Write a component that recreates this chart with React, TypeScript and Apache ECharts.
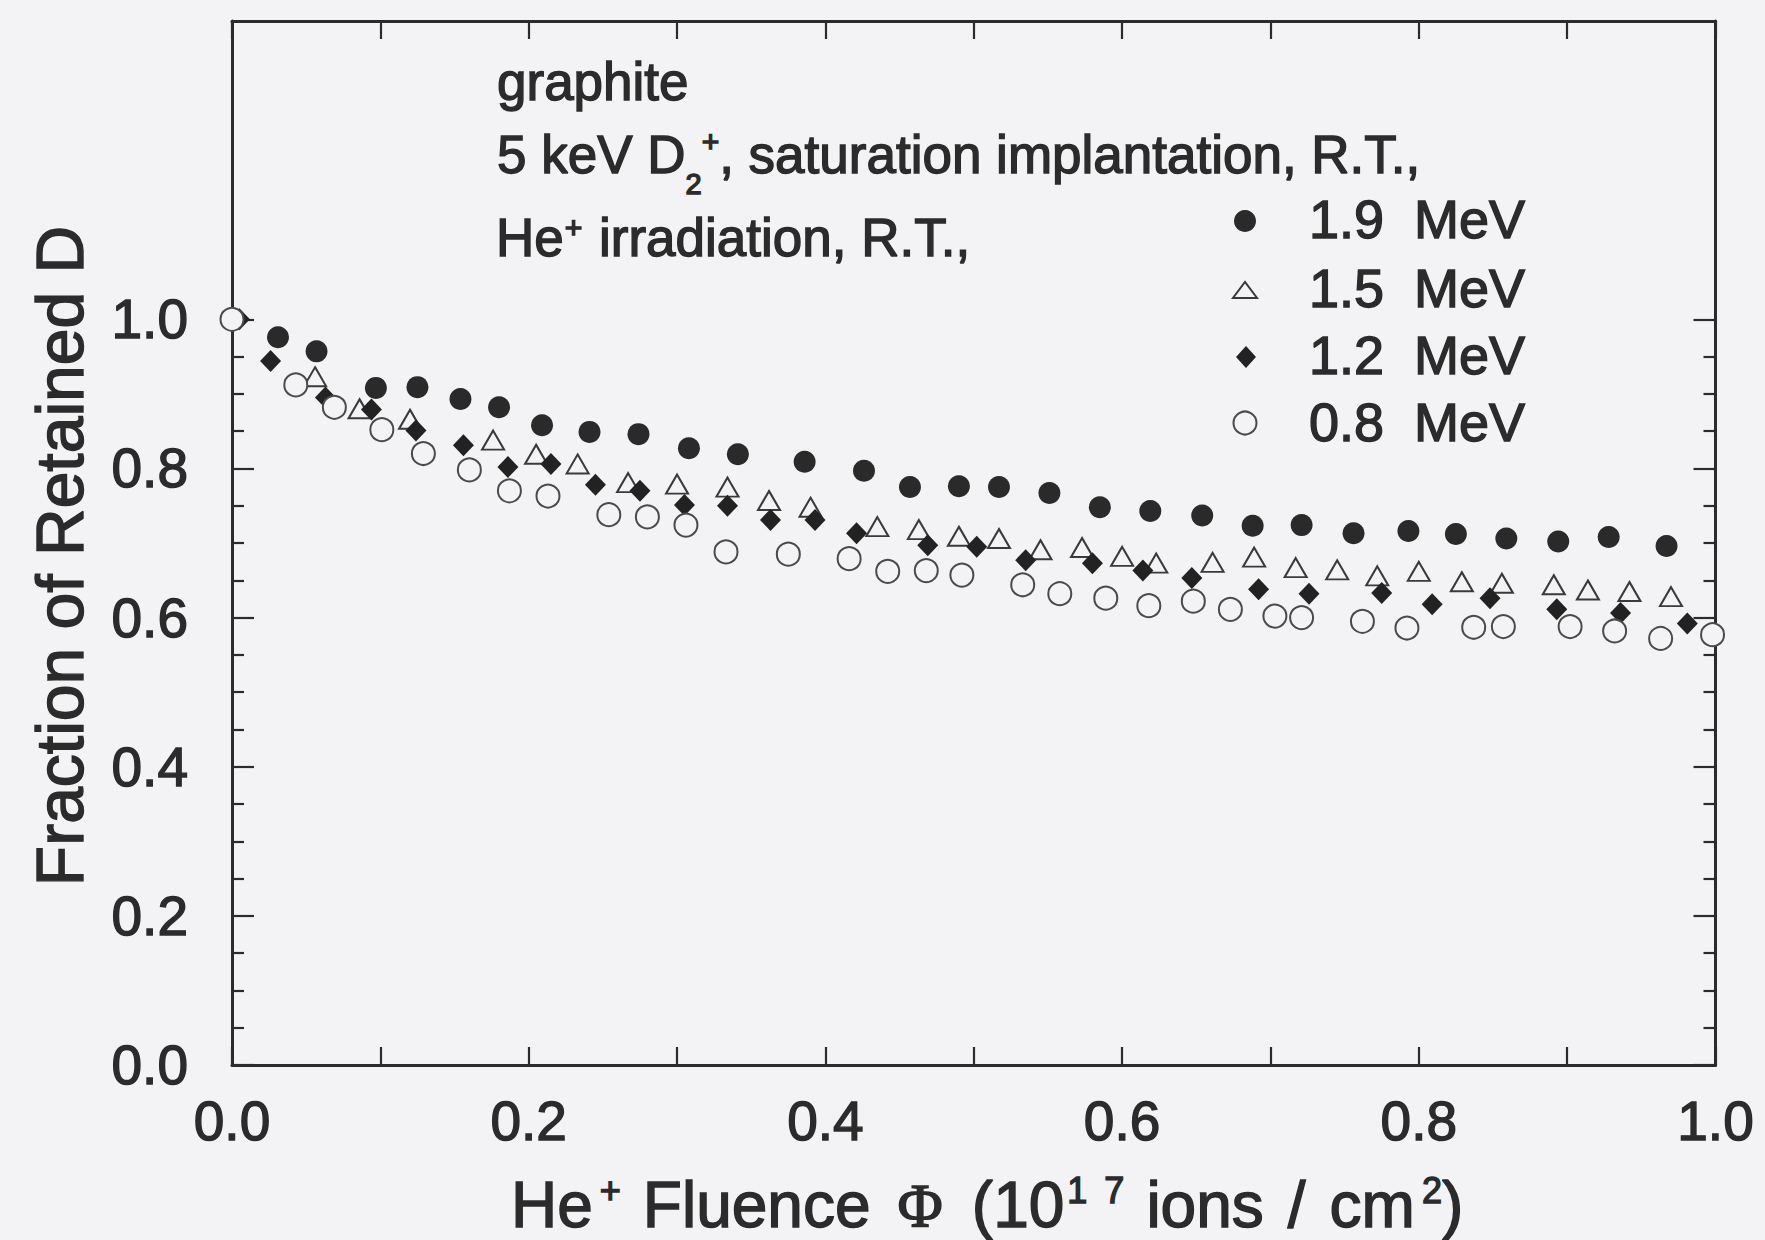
import React, { useEffect, useRef } from "react";
import * as echarts from "echarts";

// ---- data (He+ fluence in 1e17 ions/cm2, fraction of retained D) ----
const fluence19 = [0.031, 0.057, 0.097, 0.125, 0.154, 0.180, 0.209, 0.241, 0.274, 0.308, 0.341, 0.386, 0.426, 0.457, 0.490, 0.517, 0.551, 0.585, 0.619, 0.654, 0.688, 0.721, 0.756, 0.793, 0.825, 0.859, 0.894, 0.928, 0.967];
const retained19 = [0.976, 0.957, 0.908, 0.909, 0.893, 0.882, 0.858, 0.849, 0.846, 0.827, 0.819, 0.809, 0.797, 0.775, 0.776, 0.775, 0.767, 0.748, 0.743, 0.737, 0.723, 0.724, 0.713, 0.716, 0.712, 0.706, 0.702, 0.708, 0.696];

const fluence15 = [0.056, 0.086, 0.120, 0.176, 0.205, 0.233, 0.267, 0.300, 0.334, 0.362, 0.390, 0.435, 0.463, 0.490, 0.517, 0.545, 0.573, 0.600, 0.623, 0.661, 0.689, 0.717, 0.745, 0.772, 0.800, 0.829, 0.856, 0.891, 0.914, 0.942, 0.970];
const retained15 = [0.923, 0.880, 0.866, 0.838, 0.819, 0.806, 0.781, 0.779, 0.775, 0.757, 0.748, 0.722, 0.718, 0.709, 0.706, 0.691, 0.694, 0.682, 0.673, 0.674, 0.681, 0.667, 0.664, 0.656, 0.662, 0.648, 0.646, 0.644, 0.637, 0.635, 0.628];

const fluence12 = [0.005, 0.026, 0.063, 0.094, 0.124, 0.156, 0.186, 0.215, 0.245, 0.275, 0.305, 0.334, 0.363, 0.393, 0.421, 0.469, 0.502, 0.535, 0.580, 0.614, 0.647, 0.692, 0.726, 0.775, 0.809, 0.848, 0.893, 0.936, 0.981];
const retained12 = [1.0, 0.944, 0.895, 0.879, 0.851, 0.831, 0.802, 0.806, 0.778, 0.770, 0.751, 0.750, 0.731, 0.731, 0.713, 0.697, 0.695, 0.677, 0.673, 0.663, 0.653, 0.638, 0.632, 0.633, 0.618, 0.626, 0.611, 0.606, 0.592];

const fluence08 = [0, 0.043, 0.069, 0.101, 0.129, 0.160, 0.187, 0.213, 0.254, 0.280, 0.306, 0.333, 0.375, 0.416, 0.442, 0.468, 0.492, 0.533, 0.558, 0.589, 0.618, 0.648, 0.673, 0.703, 0.721, 0.762, 0.792, 0.837, 0.857, 0.902, 0.932, 0.963, 0.998];
const retained08 = [1.0, 0.912, 0.882, 0.852, 0.820, 0.798, 0.770, 0.763, 0.738, 0.735, 0.724, 0.688, 0.685, 0.679, 0.662, 0.663, 0.657, 0.644, 0.632, 0.626, 0.616, 0.622, 0.611, 0.602, 0.600, 0.595, 0.586, 0.587, 0.588, 0.588, 0.582, 0.572, 0.577];

const seriesNames = ["1.9 \u00a0MeV", "1.5 \u00a0MeV", "1.2 \u00a0MeV", "0.8 \u00a0MeV"];
const xTickLabels = ["0.0", "0.2", "0.4", "0.6", "0.8", "1.0"];
const yTickLabels = ["0.0", "0.2", "0.4", "0.6", "0.8", "1.0"];

const BG = "#f3f2f4";
const INK = "#2b2b2b";
const SANS = "'Liberation Sans', Arial, Helvetica, sans-serif";
const SERIF = "'Liberation Serif', 'Times New Roman', serif";
const THICK = 1.4; // outline that gives the scanned "medium" weight

const zip = (xs: number[], ys: number[]) => xs.map((x, i) => [x, ys[i]]);

const tok = (size: number, padding?: number[], family: string = SANS) => ({
  fontSize: size,
  fontFamily: family,
  fill: INK,
  stroke: INK,
  lineWidth: THICK,
  ...(padding ? { padding } : {}),
});

function txt(text: string, x: number, y: number, size: number, extra: any = {}) {
  const { rotation, align, rich } = extra;
  return {
    type: "text",
    x,
    y,
    rotation: rotation || 0,
    silent: true,
    style: {
      text,
      fill: INK,
      stroke: INK,
      lineWidth: THICK,
      fontSize: size,
      fontWeight: "normal",
      fontFamily: SANS,
      align: align || "left",
      verticalAlign: "middle",
      ...(rich ? { rich } : {}),
    },
  };
}

export default function App() {
  const ref = useRef<HTMLDivElement>(null);

  useEffect(() => {
    if (!ref.current) return;
    const chart = echarts.init(ref.current, undefined, { renderer: "svg" });

    const tickStyle = { color: INK, width: 2.2 };
    const lineStyle = { color: INK, width: 3 };
    const labelStyle = {
      color: INK, fontSize: 55, fontWeight: "normal", fontFamily: SANS,
      textBorderColor: INK, textBorderWidth: THICK,
    };

    // rich styles for annotation lines
    const annRich = {
      a: tok(53),
      sub: tok(29, [60, 0, 0, 0]),
      sup: tok(30, [0, 0, 26, 0]),
      sup2: tok(30, [0, 2, 20, 1]),
    };
    // rich styles for the x-axis title (paddings place each piece where the reference has it)
    const xTitleRich = {
      he: tok(64),
      s1: tok(36, [0, 0, 30, 7]),
      fl: tok(64, [0, 0, 0, 22]),
      ph: tok(62, [0, 0, 0, 27], SERIF),
      p10: tok(64, [0, 0, 0, 29]),
      e1: tok(36, [0, 0, 30, 3]),
      e7: tok(36, [0, 0, 30, 17]),
      io: tok(64, [0, 0, 0, 22]),
      sl: tok(64, [0, 0, 0, 24]),
      cm: tok(64, [0, 0, 0, 24]),
      e2: tok(36, [0, 0, 30, 7]),
      cl: tok(64),
    };

    const option: any = {
      animation: false,
      backgroundColor: BG,
      grid: [
        { left: 232, right: 49.5, top: 21, bottom: 175, containLabel: false, outerBoundsMode: "none" },
        { left: 232, right: 49.5, top: 319.3, bottom: 175, containLabel: false, outerBoundsMode: "none" },
      ],
      xAxis: [
        {
          type: "value", gridIndex: 0, min: 0, max: 1, interval: 0.2, position: "bottom",
          axisLine: { show: true, onZero: false, lineStyle },
          axisTick: { show: true, inside: true, length: 18, lineStyle: tickStyle },
          minorTick: { show: true, splitNumber: 2, length: 18, lineStyle: tickStyle },
          splitLine: { show: false },
          minorSplitLine: { show: false },
          axisLabel: {
            show: true, margin: 28, ...labelStyle,
            showMinLabel: true, showMaxLabel: true,
            formatter: (v: number) => xTickLabels[Math.round(v / 0.2)] ?? "",
          },
        },
        {
          type: "value", gridIndex: 0, min: 0, max: 1, interval: 0.2, position: "top",
          axisLine: { show: true, onZero: false, lineStyle },
          axisTick: { show: true, inside: true, length: 18, lineStyle: tickStyle },
          minorTick: { show: true, splitNumber: 2, length: 18, lineStyle: tickStyle },
          splitLine: { show: false },
          axisLabel: { show: false },
        },
        { type: "value", gridIndex: 1, min: 0, max: 1, show: false },
      ],
      yAxis: [
        {
          type: "value", gridIndex: 0, min: 0, max: 1.4, position: "left",
          axisLine: { show: true, onZero: false, lineStyle },
          axisTick: { show: false }, axisLabel: { show: false }, splitLine: { show: false },
        },
        {
          type: "value", gridIndex: 0, min: 0, max: 1.4, position: "right",
          axisLine: { show: true, onZero: false, lineStyle },
          axisTick: { show: false }, axisLabel: { show: false }, splitLine: { show: false },
        },
        {
          type: "value", gridIndex: 1, min: 0, max: 1, interval: 0.2, position: "left",
          axisLine: { show: false },
          axisTick: { show: true, inside: true, length: 22, lineStyle: tickStyle },
          minorTick: { show: true, splitNumber: 4, length: 12, lineStyle: tickStyle },
          splitLine: { show: false }, minorSplitLine: { show: false },
          axisLabel: {
            show: true, margin: 44, ...labelStyle,
            showMinLabel: true, showMaxLabel: true,
            formatter: (v: number) => yTickLabels[Math.round(v / 0.2)] ?? "",
          },
        },
        {
          type: "value", gridIndex: 1, min: 0, max: 1, interval: 0.2, position: "right",
          axisLine: { show: false },
          axisTick: { show: true, inside: true, length: 22, lineStyle: tickStyle },
          minorTick: { show: true, splitNumber: 4, length: 12, lineStyle: tickStyle },
          splitLine: { show: false }, minorSplitLine: { show: false },
          axisLabel: { show: false },
        },
      ],
      series: [
        {
          name: seriesNames[0], type: "scatter", xAxisIndex: 0, yAxisIndex: 0, clip: false,
          symbol: "circle", symbolSize: 22,
          itemStyle: { color: "#2a2a2a", opacity: 1 },
          data: zip(fluence19, retained19), z: 2,
        },
        {
          name: seriesNames[1], type: "scatter", xAxisIndex: 0, yAxisIndex: 0, clip: false,
          symbol: "triangle", symbolSize: [22, 19],
          itemStyle: { color: BG, borderColor: "#3a3a3a", borderWidth: 2, opacity: 1 },
          data: zip(fluence15, retained15), z: 3,
        },
        {
          name: seriesNames[2], type: "scatter", xAxisIndex: 0, yAxisIndex: 0, clip: false,
          symbol: "diamond", symbolSize: [21, 22],
          itemStyle: { color: "#222222", opacity: 1 },
          data: zip(fluence12, retained12), z: 4,
        },
        {
          name: seriesNames[3], type: "scatter", xAxisIndex: 0, yAxisIndex: 0, clip: false,
          symbol: "circle", symbolSize: 23,
          itemStyle: { color: BG, borderColor: "#4a4a4a", borderWidth: 2, opacity: 1 },
          data: zip(fluence08, retained08), z: 5,
        },
      ],
      graphic: [
        // annotation block
        txt("graphite", 497, 81, 53),
        txt("{a|5 keV D}{sub|2}{sup|+}{a|, saturation implantation, R.T.,}", 497, 154, 53, { rich: annRich }),
        txt("{a|He}{sup2|+}{a| irradiation, R.T.,}", 496, 237, 53, { rich: annRich }),
        // legend
        { type: "circle", silent: true, shape: { cx: 1245, cy: 221, r: 11 }, style: { fill: "#2a2a2a" } },
        {
          type: "polygon", silent: true,
          shape: { points: [[1233, 298], [1257, 298], [1245, 282]] },
          style: { fill: BG, stroke: "#3a3a3a", lineWidth: 2 },
        },
        {
          type: "polygon", silent: true,
          shape: { points: [[1246, 346], [1256, 357], [1246, 368], [1236, 357]] },
          style: { fill: "#222222" },
        },
        { type: "circle", silent: true, shape: { cx: 1245, cy: 423, r: 11.5 }, style: { fill: BG, stroke: "#4a4a4a", lineWidth: 2 } },
        txt(seriesNames[0], 1309, 219, 54),
        txt(seriesNames[1], 1309, 288, 54),
        txt(seriesNames[2], 1309, 355, 54),
        txt(seriesNames[3], 1309, 422, 54),
        // y-axis title
        txt("Fraction of Retained D", 60, 556, 66, { rotation: Math.PI / 2, align: "center" }),
        // x-axis title
        txt(
          "{he|He}{s1|+}{fl|Fluence}{ph|\u03A6}{p10|(10}{e1|1}{e7|7}{io|ions}{sl|/}{cm|cm}{e2|2}{cl|)}",
          511, 1205, 64, { rich: xTitleRich }
        ),
      ],
    };

    chart.setOption(option);
    return () => chart.dispose();
  }, []);

  return (
    <div
      ref={ref}
      style={{ position: "absolute", left: 0, top: 0, width: 1765, height: 1240 }}
    />
  );
}
